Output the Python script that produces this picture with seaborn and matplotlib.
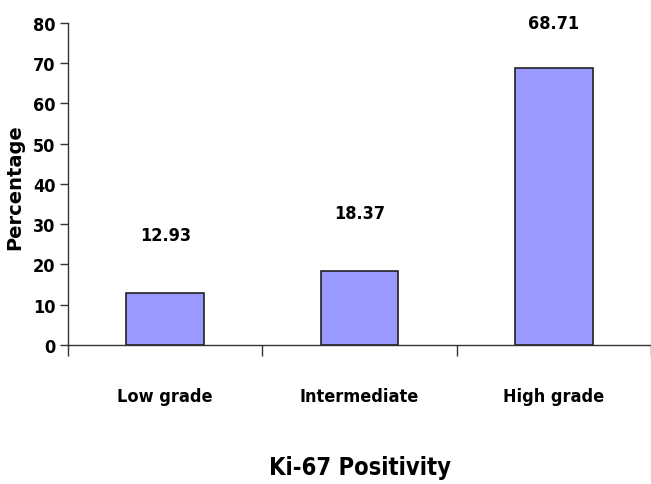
import matplotlib
matplotlib.use("Agg")
import matplotlib.pyplot as plt
import seaborn as sns
import pandas as pd

categories = ["Low grade", "Intermediate", "High grade"]
values = [12.93, 18.37, 68.71]
value_labels = ["12.93", "18.37", "68.71"]
y_ticks = [0, 10, 20, 30, 40, 50, 60, 70, 80]

sns.set_style("white")
plt.rcParams['font.family'] = ['DejaVu Sans']
plt.rcParams['text.color'] = 'black'
plt.rcParams['axes.labelcolor'] = 'black'
plt.rcParams['xtick.color'] = 'black'
plt.rcParams['ytick.color'] = 'black'

fig = plt.figure(figsize=(6.51, 4.85), dpi=100)
ax = fig.add_axes([0.1045, 0.2866, 0.8955, 0.664])

df = pd.DataFrame({"cat": categories, "val": values})
sns.barplot(data=df, x="cat", y="val", ax=ax, color="#9999FF", width=0.4,
            edgecolor="#222222", linewidth=1.2, saturation=1)

ax.set_ylim(0, 80)
ax.set_xlim(-0.5, 2.5)
ax.set_yticks(y_ticks)
ax.set_yticklabels([str(t) for t in y_ticks], fontsize=13, fontweight="bold",
                   fontstretch="condensed")
ax.set_xticks([-0.5, 0.5, 1.5, 2.5])
ax.set_xticklabels([])
ax.set_xticks([0, 1, 2], minor=True)
ax.set_xticklabels(categories, minor=True, fontsize=13, fontweight="bold",
                   fontstretch="condensed")
ax.tick_params(axis="x", which="minor", bottom=True, length=0, pad=30)
ax.tick_params(axis="x", which="major", bottom=True, length=8, width=1,
               color="#333333", direction="out")
ax.tick_params(axis="y", left=True, length=6, width=1, color="#333333",
               direction="out", pad=3)

for s in ["top", "right"]:
    ax.spines[s].set_visible(False)
for s in ["left", "bottom"]:
    ax.spines[s].set_color("#333333")
    ax.spines[s].set_linewidth(1)

ax.set_ylabel("Percentage", fontsize=14, fontweight="bold", va="center")
ax.yaxis.set_label_coords(-0.091, 0.494)
ax.set_xlabel("Ki-67 Positivity", fontsize=17, fontweight="bold",
              fontstretch="condensed", va="center")
ax.xaxis.set_label_coords(0.5, -0.379)

for i, (v, lab) in enumerate(zip(values, value_labels)):
    ax.text(i, min(v + 14.5, 80), lab, ha="center", va="center", fontsize=13,
            fontweight="bold", fontstretch="condensed", clip_on=False)

fig.savefig("out.png", dpi=100)
